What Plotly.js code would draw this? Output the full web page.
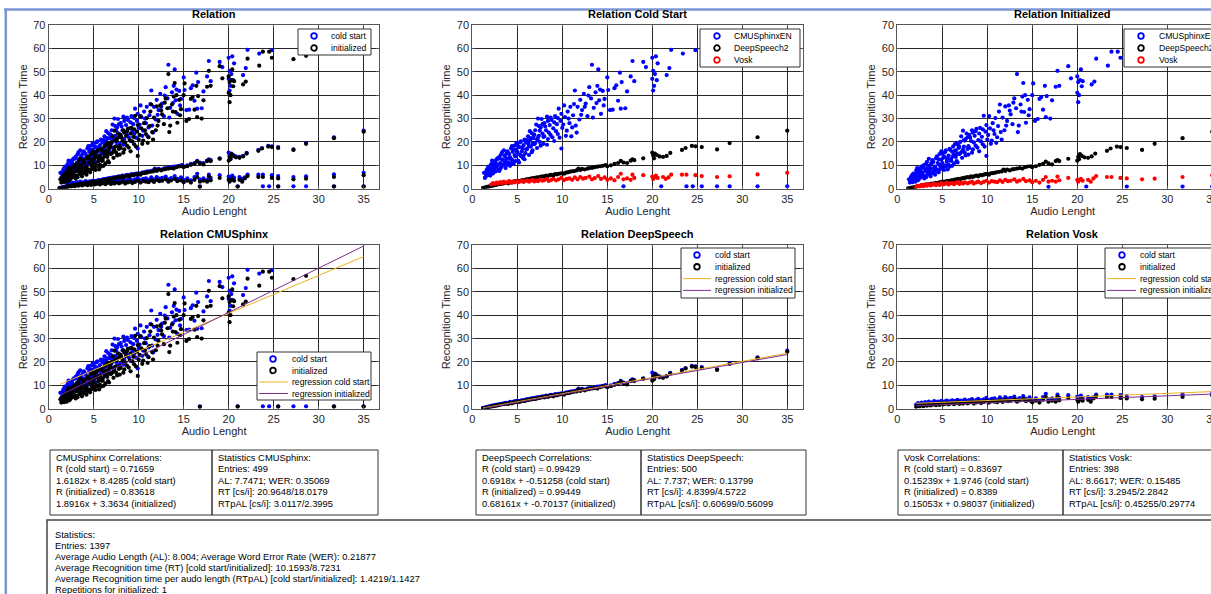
<!DOCTYPE html>
<html>
<head>
<meta charset="utf-8">
<script src="https://cdn.plot.ly/plotly-3.0.1.min.js"></script>
<style>
html,body{margin:0;padding:0;background:#fff;overflow:hidden;width:1211px;height:594px;}
#chart{width:1240px;height:594px;}
</style>
</head>
<body>
<div id="chart"></div>
<script>
// ---------------- DATA ----------------
const xTicks = [0, 5, 10, 15, 20, 25, 30, 35];
const yTicks = [0, 10, 20, 30, 40, 50, 60, 70];

// CMUSphinx: audio length, recognition time cold start, recognition time initialized
const cmuLength = [
1.3,1.5,1.6,1.7,1.8,1.9,2.0,2.1,2.2,2.3,
2.4,2.5,2.6,2.7,2.8,2.9,3.0,3.1,3.2,3.3,
3.4,3.5,3.6,3.7,3.8,3.9,4.0,4.1,4.2,4.3,
4.4,4.5,4.6,4.7,4.8,4.9,5.0,5.1,5.2,5.3,
5.4,5.5,5.6,5.7,5.8,5.9,6.0,6.1,6.2,6.3,
6.4,6.5,6.6,6.7,6.8,6.9,7.0,7.2,7.3,7.4,
7.5,7.6,7.8,7.9,8.0,8.2,8.3,8.4,8.6,8.7,
8.8,9.0,9.1,9.2,9.4,9.5,9.6,9.8,9.9,10.0,
10.2,10.3,10.5,10.6,10.8,11.0,11.2,11.4,11.5,11.7,
11.9,12.0,12.2,12.4,12.6,12.8,13.0,13.2,13.3,13.5,
13.7,13.9,14.0,14.1,14.3,14.5,14.7,15.0,15.1,15.3,
15.6,15.8,16.0,16.2,16.4,16.5,16.6,16.8,17.0,17.2,
17.6,17.8,18.0,19.0,19.3,20.0,20.0,20.1,20.1,20.2,
20.3,20.4,20.5,20.6,21.0,21.6,21.9,22.1,23.4,23.8,
24.5,24.8,25.5,27.2,28.6,31.7,35.0,
1.4,1.6,1.8,2.0,2.2,2.4,2.5,2.7,2.9,3.0,
3.2,3.4,3.5,3.7,3.9,4.0,4.2,4.4,4.5,4.7,
4.9,5.0,5.2,5.3,5.5,5.7,5.9,6.0,6.2,6.4,
6.6,6.8,7.0,7.1,7.3,7.5,7.7,7.9,8.1,8.3,
8.5,8.7,8.9,9.1,9.3,9.5,9.7,9.9,10.1,10.4,
10.7,10.9,11.1,11.3,11.6,12.1,12.5,12.9,13.4,13.8,
14.2,14.6,
1.5,1.7,1.9,2.1,2.3,2.6,2.8,3.1,3.3,3.6,
3.8,4.1,4.3,4.6,4.8,5.1,5.4,5.6,5.8,6.1,
6.3,6.5,6.7,6.9,7.2,7.4,7.6,7.8,8.0,8.4];
const cmuCold = [
6.8,5.2,8.0,6.0,9.5,7.2,5.6,10.5,8.4,6.5,
11.8,9.0,7.4,12.6,10.1,8.2,13.6,11.0,9.2,15.5,
12.2,10.3,14.0,8.8,13.0,16.0,11.2,14.8,9.8,17.2,
12.5,15.8,10.6,18.4,13.8,16.6,19.2,12.0,17.8,14.6,
20.2,16.0,13.2,18.6,21.0,15.2,19.8,17.0,22.4,14.4,
20.6,18.0,23.8,16.4,21.6,19.0,25.0,17.4,30.0,22.6,
20.0,26.2,23.6,19.2,28.0,25.0,30.8,21.2,27.2,23.0,
29.4,25.8,20.4,31.0,27.6,23.4,34.2,29.0,17.2,26.0,
35.6,30.6,24.8,33.0,28.0,22.4,31.4,42.0,27.0,35.0,
29.6,38.0,33.6,40.6,36.4,31.0,43.4,38.6,53.0,34.6,
41.2,44.0,51.0,37.8,32.0,41.8,38.4,47.6,42.2,33.6,
33.8,43.0,44.2,37.6,49.6,34.2,45.6,1.0,34.4,41.6,
48.0,54.6,46.0,54.2,52.0,56.0,47.0,42.0,50.4,44.0,
49.0,56.6,46.4,53.6,1.0,48.6,51.6,59.4,57.8,1.0,
1.0,59.2,1.0,1.0,1.0,1.0,1.0,
4.6,6.2,7.6,8.8,12.0,7.8,10.8,9.4,12.8,7.6,
14.6,10.0,16.4,12.0,10.2,15.2,13.4,18.2,11.6,14.4,
19.6,15.6,11.2,19.8,17.6,14.2,20.4,16.8,19.4,24.6,
15.6,23.2,19.6,27.4,21.8,24.8,29.8,22.2,26.6,18.8,
24.0,30.4,22.0,28.4,24.6,30.2,21.8,32.0,27.4,22.6,
30.0,35.0,26.2,36.2,24.0,31.6,35.0,39.8,30.4,36.6,
42.4,35.6,
7.0,8.6,5.8,7.0,9.8,11.2,13.0,8.4,12.6,11.4,
15.0,12.8,10.8,16.8,11.8,18.0,14.0,17.2,12.6,20.8,
18.2,21.6,19.2,23.0,21.0,26.8,18.4,27.6,22.4,29.0];
const cmuInit = [
4.0,3.2,5.5,2.8,6.5,4.4,3.0,7.8,5.2,3.6,
8.6,6.0,4.8,9.5,6.8,5.4,10.2,7.6,4.9,11.5,
8.0,6.2,9.9,5.3,10.8,12.2,7.4,9.0,6.0,13.0,
8.3,11.0,7.0,14.8,9.6,12.4,15.0,8.8,13.8,10.0,
16.4,11.6,8.2,14.2,17.0,12.0,13.0,9.8,18.0,10.8,
16.2,13.6,19.6,11.2,17.4,14.8,20.0,13.2,24.8,18.0,
15.4,21.2,17.0,14.6,23.0,20.4,25.0,16.8,22.6,18.4,
25.6,20.8,16.0,26.0,22.2,19.0,31.2,24.4,14.0,21.0,
31.0,25.8,20.6,28.0,23.4,19.6,26.8,36.0,24.2,30.4,
25.0,35.2,29.0,35.6,31.8,27.6,38.6,34.4,49.0,27.0,
36.0,39.4,45.2,32.8,28.2,38.0,34.0,40.0,45.0,29.0,
29.8,38.4,39.2,33.8,44.0,30.6,39.6,0.8,30.0,37.8,
43.6,50.4,44.0,52.4,47.2,48.0,41.0,37.0,45.6,40.0,
46.4,51.0,43.8,46.0,0.9,44.6,45.8,55.6,52.6,58.6,
58.6,56.0,0.9,55.4,56.8,0.9,0.9,
2.6,3.8,5.0,6.2,8.8,4.2,7.4,6.4,9.0,4.4,
10.6,6.8,12.8,8.6,6.6,11.4,9.4,13.8,7.8,10.2,
16.0,11.0,8.0,15.6,13.0,10.2,16.6,12.0,14.0,19.0,
11.8,18.6,15.2,22.4,16.6,20.6,23.6,18.2,21.8,15.4,
19.8,24.6,17.6,23.6,20.2,25.4,18.0,27.2,23.0,19.2,
25.0,30.2,22.0,33.0,21.0,27.0,33.4,36.8,24.2,33.0,
40.0,31.4,
4.8,6.0,3.4,4.6,7.0,8.0,9.6,5.6,8.8,7.2,
11.0,8.6,7.6,12.6,8.4,13.2,9.6,12.8,9.4,15.8,
14.6,16.4,15.0,17.8,16.0,20.8,14.2,22.0,17.4,24.0];

// DeepSpeech
const dsLength = [
1.2,1.4,1.6,1.8,2.0,2.2,2.4,2.6,2.8,3.0,
3.2,3.4,3.6,3.8,4.0,4.2,4.4,4.6,4.8,5.0,
5.2,5.4,5.6,5.8,6.0,6.2,6.4,6.6,6.8,7.0,
7.2,7.4,7.6,7.8,8.0,8.2,8.4,8.6,8.8,9.0,
9.2,9.4,9.6,9.8,10.0,10.2,10.4,10.6,10.8,11.0,
11.3,11.6,11.8,12.0,12.2,12.5,12.8,13.0,13.3,13.6,
13.9,14.2,14.5,14.8,15.0,15.4,15.8,16.2,16.5,16.8,
17.2,17.6,17.8,18.0,19.0,20.0,20.1,20.2,20.3,20.5,
20.8,21.2,21.6,22.0,23.3,23.7,24.4,24.8,25.5,27.2,
28.6,31.7,35.0];
const dsCold = [
0.4,0.5,0.8,0.9,1.1,1.3,1.4,1.6,1.8,1.9,
2.1,2.2,2.4,2.5,2.3,2.9,2.6,3.0,3.2,3.4,
3.2,3.5,3.7,3.6,4.0,4.1,4.2,4.4,4.5,4.6,
4.8,4.8,5.1,5.3,5.2,5.6,5.4,5.8,5.9,5.6,
6.2,6.1,6.4,6.5,6.6,6.4,6.9,7.0,7.2,7.4,
7.5,7.8,8.6,8.0,8.5,8.2,8.6,8.8,8.9,9.2,
9.4,9.6,9.8,10.1,9.6,10.0,10.6,11.0,11.9,11.2,
11.0,12.0,12.6,12.2,13.0,15.4,14.2,13.0,15.0,14.4,
13.8,13.6,14.0,15.3,16.6,17.4,18.3,18.1,17.8,16.8,
19.5,22.0,24.8];
const dsInit = [
0.2,0.3,0.5,0.6,0.8,1.0,1.1,1.3,1.4,1.6,
1.8,1.9,2.0,2.2,2.0,2.5,2.3,2.6,2.8,3.0,
2.9,3.1,3.4,3.3,3.6,3.7,3.9,4.0,4.2,4.2,
4.4,4.6,4.7,5.0,4.8,5.3,5.0,5.4,5.6,5.3,
5.8,5.7,6.0,6.2,6.3,6.0,6.6,6.7,6.8,7.0,
7.2,7.4,8.2,7.6,8.2,7.8,8.3,8.4,8.6,8.8,
8.6,9.2,9.5,9.6,9.2,9.6,10.2,10.6,11.6,10.8,
10.4,11.8,12.2,11.8,12.8,12.0,13.6,12.6,14.8,14.0,
13.4,13.2,13.8,15.0,16.2,17.2,18.0,17.8,17.4,16.6,
19.2,21.6,24.4];

// Vosk
const vkLength = [
2.1,2.3,2.5,2.7,2.9,3.1,3.3,3.5,3.7,3.9,
4.1,4.3,4.5,4.7,4.9,5.1,5.3,5.5,5.7,5.9,
6.1,6.3,6.5,6.7,6.9,7.1,7.3,7.5,7.8,8.0,
8.3,8.5,8.8,9.0,9.3,9.6,9.9,10.2,10.5,10.8,
11.1,11.4,11.7,12.0,12.3,12.6,13.0,13.3,13.6,14.0,
14.3,14.7,15.0,15.4,15.8,16.2,16.5,16.8,17.2,17.6,
17.8,18.0,19.0,20.0,20.1,20.2,20.4,20.6,21.2,21.5,
21.8,22.1,23.3,23.8,24.8,25.5,27.2,28.6,31.7,35.0];
const vkCold = [
1.8,2.4,2.0,2.6,2.2,2.8,2.3,3.0,2.5,2.7,
3.2,2.6,3.0,2.7,3.4,2.8,3.1,3.5,2.9,3.3,
3.6,3.0,3.4,3.8,3.1,3.5,3.2,3.9,3.4,3.7,
4.1,3.3,3.8,4.2,3.6,4.0,4.6,3.7,4.2,4.4,
3.8,4.8,4.0,5.0,4.3,4.6,5.2,4.0,4.5,5.4,
4.2,4.8,3.8,4.4,3.6,5.0,6.4,4.0,4.4,3.8,
6.0,4.6,5.8,5.2,4.2,4.8,5.6,4.6,5.0,4.2,
4.8,6.0,6.0,6.0,5.8,5.4,5.0,5.3,6.1,6.8];
const vkInit = [
0.8,1.2,1.0,1.6,1.1,1.8,1.3,2.0,1.4,1.7,
2.2,1.5,2.0,1.6,2.4,1.8,2.0,2.6,1.8,2.3,
2.4,1.9,2.4,2.8,2.0,2.5,2.2,2.7,2.3,2.6,
3.0,2.2,2.7,3.0,2.4,2.9,3.4,2.6,3.2,3.0,
2.8,3.6,2.9,3.8,3.2,3.4,4.0,3.0,3.5,4.2,
3.2,3.6,2.8,3.4,2.6,3.8,5.0,3.0,3.4,3.0,
5.2,3.6,4.6,3.8,3.0,3.6,4.2,3.4,3.8,3.0,
4.4,5.4,5.0,5.0,4.6,4.4,4.0,4.3,5.0,5.8];

// Regression line end points (as drawn)
const cmuRegX = [1.3, 35];
const cmuRegCold = [10.53, 65.07];
const cmuRegInit = [5.82, 69.57];
const dsRegX = [1.2, 35];
const dsRegCold = [0.32, 23.70];
const dsRegInit = [0.12, 23.16];
const vkRegX = [2.1, 35];
const vkRegCold = [2.29, 7.31];
const vkRegInit = [1.30, 6.25];

const panelTitles = ['Relation', 'Relation Cold Start', 'Relation Initialized',
                     'Relation CMUSphinx', 'Relation DeepSpeech', 'Relation Vosk'];
const engineNames = ['CMUSphinxEN', 'DeepSpeech2', 'Vosk'];
const modeNames = ['cold start', 'initialized', 'regression cold start', 'regression initialized'];

const boxLines = [
 ['CMUSphinx Correlations:', 'R (cold start) = 0.71659', '1.6182x + 8.4285 (cold start)', 'R (initialized) = 0.83618', '1.8916x + 3.3634 (initialized)'],
 ['Statistics CMUSphinx:', 'Entries: 499', 'AL: 7.7471; WER: 0.35069', 'RT [cs/i]: 20.9648/18.0179', 'RTpAL [cs/i]: 3.0117/2.3995'],
 ['DeepSpeech Correlations:', 'R (cold start) = 0.99429', '0.6918x + -0.51258 (cold start)', 'R (initialized) = 0.99449', '0.68161x + -0.70137 (initialized)'],
 ['Statistics DeepSpeech:', 'Entries: 500', 'AL: 7.737; WER: 0.13799', 'RT [cs/i]: 4.8399/4.5722', 'RTpAL [cs/i]: 0.60699/0.56099'],
 ['Vosk Correlations:', 'R (cold start) = 0.83697', '0.15239x + 1.9746 (cold start)', 'R (initialized) = 0.8389', '0.15053x + 0.98037 (initialized)'],
 ['Statistics Vosk:', 'Entries: 398', 'AL: 8.6617; WER: 0.15485', 'RT [cs/i]: 3.2945/2.2842', 'RTpAL [cs/i]: 0.45255/0.29774']
];
const statLines = ['Statistics:', 'Entries: 1397',
 'Average Audio Length (AL): 8.004; Average Word Error Rate (WER): 0.21877',
 'Average Recognition time (RT) [cold start/initialized]: 10.1593/8.7231',
 'Average Recognition time per audo length (RTpAL) [cold start/initialized]: 1.4219/1.1427',
 'Repetitions for initialized: 1'];

// ---------------- LAYOUT HELPERS ----------------
const W = 1240, H = 594;
const FONT = 'Liberation Sans, Arial, Helvetica, sans-serif';
const fx = v => v / W;
const fy = v => 1 - v / H;
const cols = [[48.7, 379.4], [472.3, 803.0], [897.3, 1228.0]];
const rows = [[25, 188.7], [245, 408.7]];
const BLUE = '#0000ff', BLACK = '#000000', RED = '#ff0000';
const ORANGE = '#EDB120', PURPLE = '#7E2F8E';

const layout = {
  width: W, height: H,
  margin: {l: 0, r: 0, t: 0, b: 0},
  paper_bgcolor: '#fff', plot_bgcolor: '#fff',
  font: {family: FONT, color: '#262626'},
  showlegend: false,
  annotations: [], shapes: []
};

for (let i = 0; i < 6; i++) {
  const c = i % 3, r = Math.floor(i / 3);
  const s = i === 0 ? '' : String(i + 1);
  layout['xaxis' + s] = {
    domain: [fx(cols[c][0]), fx(cols[c][1])], anchor: 'y' + s,
    range: [0, 36.75], tickvals: xTicks, ticktext: xTicks.map(String),
    showgrid: true, gridcolor: '#262626', gridwidth: 1, zeroline: false,
    showline: true, mirror: 'ticks', linecolor: '#555', linewidth: 1,
    ticks: 'inside', ticklen: 3, tickcolor: '#555',
    tickfont: {size: 11, color: '#262626', family: FONT},
    title: {text: 'Audio Lenght', font: {size: 11, color: '#262626', family: FONT}, standoff: 3},
    automargin: false, fixedrange: true
  };
  layout['yaxis' + s] = {
    domain: [fy(rows[r][1]), fy(rows[r][0])], anchor: 'x' + s,
    range: [0, 70], tickvals: yTicks, ticktext: yTicks.map(String),
    showgrid: true, gridcolor: '#262626', gridwidth: 1, zeroline: false,
    showline: true, mirror: 'ticks', linecolor: '#555', linewidth: 1,
    ticks: 'inside', ticklen: 3, tickcolor: '#555',
    tickfont: {size: 11, color: '#262626', family: FONT},
    title: {text: 'Recognition Time', font: {size: 11, color: '#262626', family: FONT}, standoff: 3},
    automargin: false, fixedrange: true
  };
  layout.annotations.push({
    xref: 'paper', yref: 'paper', x: fx((cols[c][0] + cols[c][1]) / 2), y: fy(r === 0 ? 14 : 234),
    xanchor: 'center', yanchor: 'middle', showarrow: false,
    text: '<b>' + panelTitles[i] + '</b>', font: {size: 11, color: '#000', family: FONT}
  });
}

// compact legends (box, icons, labels)
function addLegend(g, items) {
  layout.shapes.push({type: 'rect', xref: 'paper', yref: 'paper', layer: 'above',
    x0: fx(g.x0), x1: fx(g.x1), y0: fy(g.y1), y1: fy(g.y0),
    line: {color: '#333', width: 1}, fillcolor: '#ffffff'});
  items.forEach((it, k) => {
    const yc = g.y0 + 7 + k * g.dy;
    if (it.kind === 'marker') {
      const rr = 2.8;
      layout.shapes.push({type: 'circle', xref: 'paper', yref: 'paper', layer: 'above',
        x0: fx(g.icon - rr), x1: fx(g.icon + rr), y0: fy(yc + rr), y1: fy(yc - rr),
        line: {color: it.color, width: 1.8}, fillcolor: 'rgba(0,0,0,0)'});
    } else {
      layout.shapes.push({type: 'line', xref: 'paper', yref: 'paper', layer: 'above',
        x0: fx(g.x0 + 2), x1: fx(g.text - 2), y0: fy(yc), y1: fy(yc),
        line: {color: it.color, width: 1}});
    }
    layout.annotations.push({xref: 'paper', yref: 'paper', x: fx(g.text), y: fy(yc),
      xanchor: 'left', yanchor: 'middle', showarrow: false, text: it.label,
      font: {size: 8.6, color: '#000', family: FONT}});
  });
}
const csItems = [{label: modeNames[0], color: BLUE, kind: 'marker'}, {label: modeNames[1], color: BLACK, kind: 'marker'}];
const engItems = [{label: engineNames[0], color: BLUE, kind: 'marker'}, {label: engineNames[1], color: BLACK, kind: 'marker'},
                  {label: engineNames[2], color: RED, kind: 'marker'}];
const regItems = csItems.concat([{label: modeNames[2], color: ORANGE, kind: 'line'}, {label: modeNames[3], color: PURPLE, kind: 'line'}]);
addLegend({x0: 298, x1: 371, y0: 29, y1: 55, icon: 314, text: 329, dy: 12}, csItems);
addLegend({x0: 700, x1: 800, y0: 29, y1: 67, icon: 717, text: 732, dy: 12}, engItems);
addLegend({x0: 1124, x1: 1245, y0: 29, y1: 67, icon: 1141, text: 1157, dy: 12}, engItems);
addLegend({x0: 257, x1: 371, y0: 352, y1: 400, icon: 273, text: 290, dy: 11.5}, regItems);
addLegend({x0: 681, x1: 795, y0: 248, y1: 298, icon: 697, text: 713, dy: 11.8}, regItems);
addLegend({x0: 1105, x1: 1245, y0: 248, y1: 298, icon: 1122, text: 1138, dy: 11.8}, regItems);

// text boxes
const boxes = [[50, 212], [212, 378], [476, 641], [641, 806], [898, 1063], [1063, 1236]];
boxes.forEach((b, k) => {
  layout.shapes.push({type: 'rect', xref: 'paper', yref: 'paper', x0: fx(b[0]), x1: fx(b[1]),
    y0: fy(515), y1: fy(450), line: {color: '#333', width: 1}, fillcolor: 'rgba(0,0,0,0)'});
  boxLines[k].forEach((t, j) => {
    layout.annotations.push({xref: 'paper', yref: 'paper', x: fx(b[0] + 4), y: fy(457 + j * 11.5),
      xanchor: 'left', yanchor: 'middle', align: 'left', showarrow: false,
      text: t, font: {size: 9.4, color: '#000', family: FONT}});
  });
});
layout.shapes.push({type: 'rect', xref: 'paper', yref: 'paper', x0: fx(47), x1: fx(1236),
  y0: fy(600), y1: fy(520), line: {color: '#444', width: 1.5}, fillcolor: 'rgba(0,0,0,0)'});
statLines.forEach((t, j) => {
  layout.annotations.push({xref: 'paper', yref: 'paper', x: fx(53), y: fy(534 + j * 11),
    xanchor: 'left', yanchor: 'middle', align: 'left', showarrow: false,
    text: t, font: {size: 9.4, color: '#000', family: FONT}});
});
// window frame lines
layout.shapes.push({type: 'line', xref: 'paper', yref: 'paper', x0: fx(4), x1: fx(W), y0: fy(9.5), y1: fy(9.5),
  line: {color: '#7B97D6', width: 2.5}});
layout.shapes.push({type: 'line', xref: 'paper', yref: 'paper', x0: fx(5.8), x1: fx(5.8), y0: fy(8.5), y1: fy(H),
  line: {color: '#7B97D6', width: 2.5}});

// ---------------- TRACES ----------------
const traces = [];
function dots(x, y, color, ax, name) {
  traces.push({type: 'scatter', mode: 'markers', x: x, y: y, xaxis: 'x' + ax, yaxis: 'y' + ax, name: name,
    showlegend: false, hoverinfo: 'skip', marker: {size: 4.2, color: color}});
}
function regLine(x, y, color, ax, name) {
  traces.push({type: 'scatter', mode: 'lines', x: x, y: y, xaxis: 'x' + ax, yaxis: 'y' + ax,
    name: name, showlegend: false, hoverinfo: 'skip', line: {color: color, width: 1}});
}

// panel 1 : all engines
dots(cmuLength.concat(dsLength, vkLength), cmuCold.concat(dsCold, vkCold), BLUE, '', modeNames[0]);
dots(cmuLength.concat(dsLength, vkLength), cmuInit.concat(dsInit, vkInit), BLACK, '', modeNames[1]);
// panel 2 : cold start
dots(cmuLength, cmuCold, BLUE, '2', engineNames[0]);
dots(dsLength, dsCold, BLACK, '2', engineNames[1]);
dots(vkLength, vkCold, RED, '2', engineNames[2]);
// panel 3 : initialized
dots(cmuLength, cmuInit, BLUE, '3', engineNames[0]);
dots(dsLength, dsInit, BLACK, '3', engineNames[1]);
dots(vkLength, vkInit, RED, '3', engineNames[2]);
// panels 4-6 : per engine
const per = [
  [cmuLength, cmuCold, cmuInit, cmuRegX, cmuRegCold, cmuRegInit, '4'],
  [dsLength, dsCold, dsInit, dsRegX, dsRegCold, dsRegInit, '5'],
  [vkLength, vkCold, vkInit, vkRegX, vkRegCold, vkRegInit, '6']
];
per.forEach(p => {
  const ax = p[6];
  dots(p[0], p[1], BLUE, ax, modeNames[0]);
  dots(p[0], p[2], BLACK, ax, modeNames[1]);
  regLine(p[3], p[4], ORANGE, ax, modeNames[2]);
  regLine(p[3], p[5], PURPLE, ax, modeNames[3]);
});

Plotly.newPlot('chart', traces, layout, {displayModeBar: false, staticPlot: true});
</script>
</body>
</html>
